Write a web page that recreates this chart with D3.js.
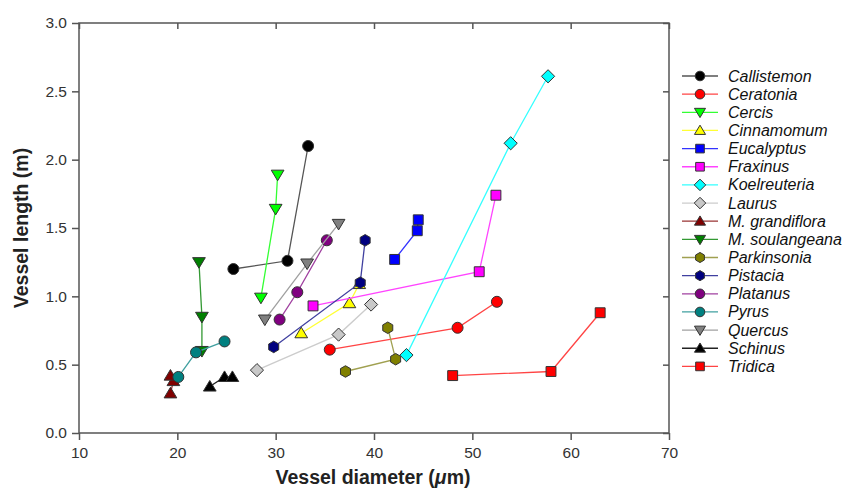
<!DOCTYPE html>
<html lang="en">
  <head>
    <meta charset="utf-8" />
    <script src="https://cdn.jsdelivr.net/npm/d3@7/dist/d3.min.js"></script>
    <style>
      body { margin: 0; background: #fff; }
      text { font-family: "Liberation Sans", Arial, sans-serif; }
      .axis path, .axis line { stroke: #555; stroke-width: 1.5; }
      .axis text { fill: #333; font-size: 15.5px; }
    </style>
  </head>
  <body>
    <div id="container"></div>
    <script>
      // species, in legend order
      const species = ["Callistemon", "Ceratonia", "Cercis", "Cinnamomum", "Eucalyptus", "Fraxinus", "Koelreuteria", "Laurus",
        "M. grandiflora", "M. soulangeana", "Parkinsonia", "Pistacia", "Platanus", "Pyrus", "Quercus", "Schinus", "Tridica"];
      const shapes = ["circle", "circle", "down", "up", "square", "square", "diamond", "diamond",
        "up", "down", "hexagon", "hexagon", "circle", "circle", "down", "up", "square"];
      const fills = ["#000000", "#ff0000", "#00ff00", "#ffff00", "#0000ff", "#ff00ff", "#00ffff", "#c8c8c8",
        "#800000", "#008000", "#808000", "#000080", "#800080", "#008080", "#808080", "#000000", "#ff0000"];
      const lineColors = ["#555555", "#ff4444", "#33ff33", "#ffff33", "#3333ff", "#ff44ff", "#33ffff", "#cccccc",
        "#993333", "#339933", "#a0a050", "#4040a0", "#a040a0", "#40a0a0", "#a0a0a0", "#222222", "#ff4444"];

      // vessel diameter (um) and vessel length (m) per species
      const diameters = [
        [25.7, 31.2, 33.3], [35.5, 48.5, 52.5], [28.5, 30.0, 30.2], [32.6, 37.5, 38.5],
        [42.1, 44.4, 44.5], [33.8, 50.7, 52.4], [43.3, 53.9, 57.7], [28.1, 36.4, 39.7],
        [19.3, 19.6, 19.3], [22.2, 22.5, 22.5], [37.1, 42.2, 41.4], [29.8, 38.6, 39.1],
        [30.4, 32.2, 35.2], [20.1, 21.9, 24.8], [28.9, 33.2, 36.4], [23.3, 24.8, 25.6],
        [48.0, 58.0, 63.0]
      ];
      const lengths = [
        [1.20, 1.26, 2.10], [0.61, 0.77, 0.96], [0.99, 1.64, 1.89], [0.73, 0.95, 1.09],
        [1.27, 1.48, 1.56], [0.93, 1.18, 1.74], [0.57, 2.12, 2.61], [0.46, 0.72, 0.94],
        [0.29, 0.38, 0.42], [1.25, 0.85, 0.60], [0.45, 0.54, 0.77], [0.63, 1.10, 1.41],
        [0.83, 1.03, 1.41], [0.41, 0.59, 0.67], [0.83, 1.24, 1.53], [0.34, 0.41, 0.41],
        [0.42, 0.45, 0.88]
      ];
      const xTicks = [10, 20, 30, 40, 50, 60, 70];
      const yTicks = [0, 0.5, 1.0, 1.5, 2.0, 2.5, 3.0];

      const width = 843, height = 489;
      const margin = { left: 79, right: 174, top: 23, bottom: 56 };
      const svg = d3.select("#container").append("svg").attr("width", width).attr("height", height);

      const x = d3.scaleLinear().domain([10, 70]).range([margin.left, width - margin.right]);
      const y = d3.scaleLinear().domain([0, 3]).range([height - margin.bottom, margin.top]);

      function markerPath(shape, r) {
        const p = d3.path();
        if (shape === "circle") {
          p.arc(0, 0, r, 0, 2 * Math.PI);
        } else if (shape === "square") {
          p.rect(-r * 0.9, -r * 0.9, r * 1.8, r * 1.8);
        } else if (shape === "diamond") {
          const d = r * 1.2;
          p.moveTo(0, -d); p.lineTo(d, 0); p.lineTo(0, d); p.lineTo(-d, 0); p.closePath();
        } else if (shape === "up" || shape === "down") {
          const s = shape === "up" ? 1 : -1;
          const h = r * 1.1;
          p.moveTo(0, -s * h); p.lineTo(h * 1.05, s * h * 0.75); p.lineTo(-h * 1.05, s * h * 0.75); p.closePath();
        } else if (shape === "hexagon") {
          for (let i = 0; i < 6; i++) {
            const a = -Math.PI / 2 + i * Math.PI / 3;
            const px = r * 1.05 * Math.cos(a), py = r * 1.05 * Math.sin(a);
            if (i === 0) p.moveTo(px, py); else p.lineTo(px, py);
          }
          p.closePath();
        }
        return p.toString();
      }

      // frame
      svg.append("rect").attr("x", margin.left).attr("y", margin.top)
        .attr("width", width - margin.left - margin.right).attr("height", height - margin.top - margin.bottom)
        .attr("fill", "none").attr("stroke", "#555").attr("stroke-width", 1.5);

      const xAxis = svg.append("g").attr("class", "axis").attr("transform", `translate(0,${y(0)})`)
        .call(d3.axisBottom(x).tickValues(xTicks).tickFormat(d3.format("d")).tickSize(7).tickPadding(7));
      const yAxis = svg.append("g").attr("class", "axis").attr("transform", `translate(${x(10)},0)`)
        .call(d3.axisLeft(y).tickValues(yTicks).tickFormat(d3.format(".1f")).tickSize(7).tickPadding(5));
      svg.append("g").attr("class", "axis").attr("transform", `translate(0,${y(3)})`)
        .call(d3.axisBottom(x).tickValues(xTicks).tickFormat("").tickSize(6))
        .call(g => g.select(".domain").remove());
      svg.append("g").attr("class", "axis").attr("transform", `translate(${x(70)},0)`)
        .call(d3.axisLeft(y).tickValues(yTicks).tickFormat("").tickSize(6))
        .call(g => g.select(".domain").remove());
      xAxis.select(".domain").remove();
      yAxis.select(".domain").remove();

      // axis titles
      svg.append("text").attr("x", 373).attr("y", 484).attr("text-anchor", "middle")
        .attr("font-size", 19.5).attr("font-weight", "bold").attr("fill", "#222")
        .html('Vessel diameter (<tspan font-style="italic">μ</tspan>m)');
      svg.append("text").attr("transform", `translate(28,${y(1.5)}) rotate(-90)`).attr("text-anchor", "middle")
        .attr("font-size", 19.5).attr("font-weight", "bold").attr("fill", "#222").text("Vessel length (m)");

      const series = species.map((name, i) => ({
        name, shape: shapes[i], fill: fills[i], line: lineColors[i],
        pts: diameters[i].map((d, j) => [d, lengths[i][j]])
      }));

      const line = d3.line().x(d => x(d[0])).y(d => y(d[1]));
      const plot = svg.append("g");
      series.forEach(s => {
        plot.append("path").attr("d", line(s.pts)).attr("fill", "none")
          .attr("stroke", s.line).attr("stroke-width", 1.3);
        plot.selectAll(null).data(s.pts).join("path")
          .attr("transform", d => `translate(${x(d[0])},${y(d[1])})`)
          .attr("d", markerPath(s.shape, 5.5))
          .attr("fill", s.fill).attr("stroke", "#333").attr("stroke-width", 1);
      });

      // legend
      const legend = svg.append("g").attr("transform", "translate(682,76)");
      const rowH = 18.15;
      series.forEach((s, i) => {
        const g = legend.append("g").attr("transform", `translate(0,${i * rowH})`);
        g.append("line").attr("x1", 0).attr("x2", 36).attr("stroke", s.line).attr("stroke-width", 1.3);
        g.append("path").attr("transform", "translate(18,0)").attr("d", markerPath(s.shape, 4.8))
          .attr("fill", s.fill).attr("stroke", "#333").attr("stroke-width", 1);
        g.append("text").attr("x", 46).attr("y", 5.5).attr("font-size", 16).attr("font-style", "italic")
          .attr("fill", "#111").text(s.name);
      });
    </script>
  </body>
</html>
